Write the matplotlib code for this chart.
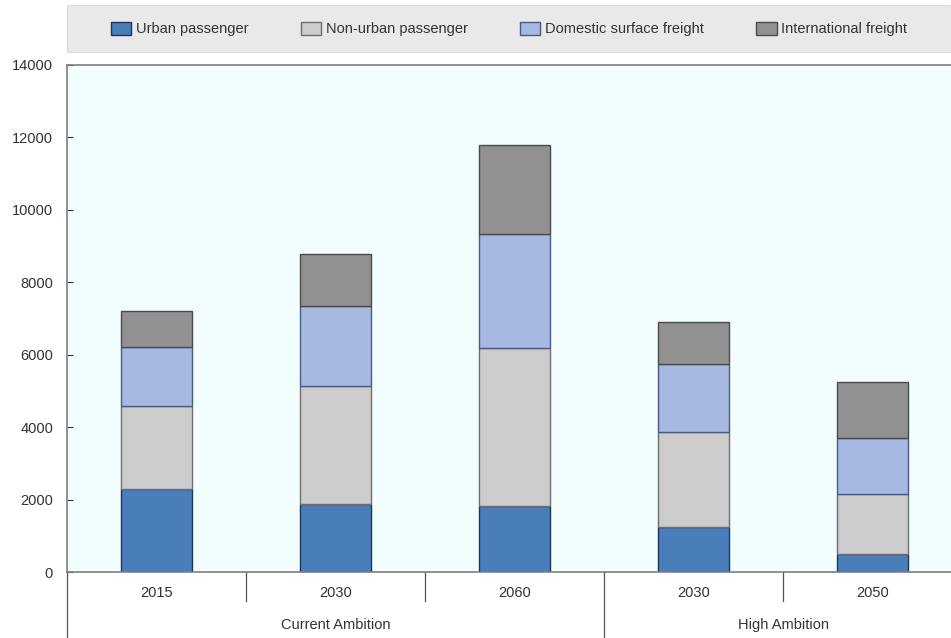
import matplotlib
matplotlib.use("Agg")
import matplotlib.pyplot as plt
import matplotlib.transforms as mtransforms
from matplotlib.patches import Rectangle
import numpy as np

plt.rcParams['font.family'] = ['Liberation Sans', 'DejaVu Sans']

# data
years = ["2015", "2030", "2060", "2030", "2050"]
groups = ["Current Ambition", "High Ambition"]
group_sizes = [3, 2]
series_names = ["Urban passenger", "Non-urban passenger", "Domestic surface freight", "International freight"]
urban = [2280, 1880, 1830, 1240, 500]
non_urban = [2310, 3260, 4350, 2620, 1650]
domestic = [1630, 2210, 3150, 1880, 1550]
international = [990, 1440, 2470, 1160, 1550]

colors = ["#4a7ebb", "#cccccc", "#a7b8e2", "#919191"]
edges = ["#1f3556", "#6e6e6e", "#4a5a80", "#4a4a4a"]

fig = plt.figure(figsize=(9.51, 6.38), dpi=100)
ax = fig.add_axes([67 / 951, 66 / 638, 895 / 951, 507 / 638])
ax.set_facecolor("#f2fdfe")

x = np.arange(len(years))
bottom = np.zeros(len(years))
handles = []
for vals, name, c, ec in zip([urban, non_urban, domestic, international], series_names, colors, edges):
    b = ax.bar(x, vals, width=0.4, bottom=bottom, color=c, edgecolor=ec, linewidth=1.0, label=name)
    bottom += np.array(vals)
    handles.append(b)

ax.set_xlim(-0.5, len(years) - 0.5)
ax.set_ylim(0, 14000)
ax.set_yticks(np.arange(0, 14001, 2000))
ax.tick_params(axis='y', direction='in', length=4, labelsize=10.5, colors='#333333', pad=10)
ax.tick_params(axis='x', length=0, labelsize=10.5, pad=10, colors='#333333')
ax.set_xticks(x)
ax.set_xticklabels(years)
for side in ["left", "top", "bottom", "right"]:
    ax.spines[side].set_color("#7f7f7f")
    ax.spines[side].set_linewidth(1.2)

# category separators below the axis
trans = mtransforms.blended_transform_factory(ax.transData, ax.transAxes)
cum = np.cumsum(group_sizes)
for i in range(len(years) + 1):
    xp = i - 0.5
    long_line = i == 0 or i in cum
    ax.plot([xp, xp], [0, -0.13 if long_line else -0.057], transform=trans,
            color="#555555", lw=0.9, clip_on=False)

# group labels
start = 0
for g, n in zip(groups, group_sizes):
    centre = start + (n - 1) / 2
    ax.text(centre, -0.105, g, transform=trans, ha='center', va='center',
            fontsize=10.5, color='#333333')
    start += n

# legend band
fig.patches.append(Rectangle((67 / 951, 1 - 52 / 638), 884 / 951, 47 / 638,
                             transform=fig.transFigure, facecolor="#e9e9e9",
                             edgecolor="#dcdcdc", linewidth=0.8, zorder=0))
fig.legend(handles=handles, labels=series_names, ncol=4, loc='center',
           bbox_to_anchor=(509 / 951, 1 - 29 / 638), frameon=False,
           fontsize=10.5, handlelength=1.4, handleheight=1.0,
           columnspacing=3.6, handletextpad=0.3, labelcolor='#333333')

fig.savefig("out.png", dpi=100)
